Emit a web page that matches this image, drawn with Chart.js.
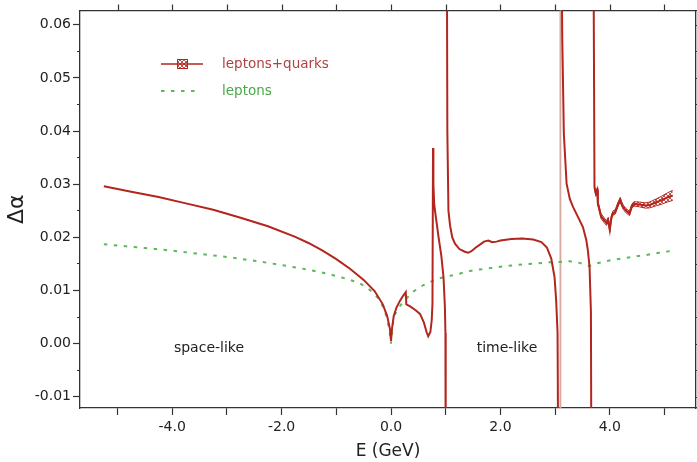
<!DOCTYPE html>
<html>
<head>
<meta charset="utf-8">
<script src="https://cdn.jsdelivr.net/npm/chart.js@4.4.1/dist/chart.umd.min.js"></script>
<style>
	html, body { margin: 0; padding: 0; background: #fff; }
	canvas { display: block; }
</style>
</head>
<body>
<canvas id="c" width="697" height="462"></canvas>
<script>
// --- data ---

// leptons + quarks (null = break at a resonance pole)
const hadE = [
	-5.25, -4.75, -4.25, -3.75, -3.25, -2.75, -2.25, -1.75, -1.5, -1.25, -1.0, -0.75, -0.5, -0.3, -0.15, -0.07, -0.02, 0.0,
	0.02, 0.05, 0.10, 0.16, 0.22, 0.27, 0.28, 0.35, 0.45, 0.53, 0.60, 0.65, 0.68, 0.72, 0.745, 0.758, 0.768, 0.775, 0.79,
	0.82, 0.87, 0.92, 0.96, 0.985, 0.995, 1.0,
	1.01,
	1.02, 1.03, 1.05, 1.08, 1.12, 1.17, 1.25, 1.35, 1.41, 1.47, 1.55, 1.62, 1.70, 1.78, 1.85, 1.93, 2.0, 2.2, 2.4, 2.6,
	2.75, 2.85, 2.93, 2.99, 3.02, 3.045, 3.06,
	3.09,
	3.115, 3.13, 3.16, 3.21, 3.27, 3.33, 3.42, 3.51, 3.57, 3.60, 3.63, 3.655, 3.665,
	3.68,
	3.70, 3.72, 3.745, 3.77, 3.78, 3.84, 3.90, 3.94, 3.97, 4.00, 4.03, 4.06, 4.10, 4.15, 4.19, 4.22, 4.25, 4.30, 4.36,
	4.40, 4.44, 4.54, 4.65, 4.73, 4.85, 4.95, 5.05, 5.15
];
const hadVal = [
	0.0296, 0.0286, 0.0276, 0.0264, 0.0252, 0.0237, 0.0221, 0.0201, 0.0189, 0.0175, 0.0159, 0.0141, 0.0120, 0.0099, 0.0074, 0.0052, 0.0028, 0.0005,
	0.0030, 0.0052, 0.0068, 0.0080, 0.0090, 0.0097, 0.0074, 0.0070, 0.0063, 0.0056, 0.0040, 0.0022, 0.0014, 0.0022, 0.0045, 0.0075, 0.0368, 0.0300, 0.0262,
	0.0238, 0.0200, 0.0165, 0.0125, 0.0070, 0.0020, -0.03,
	null,
	0.08, 0.040, 0.025, 0.0222, 0.0200, 0.0188, 0.0178, 0.0173, 0.0171, 0.0174, 0.0181, 0.0186, 0.0192, 0.0194, 0.0191, 0.0192, 0.0194, 0.0197, 0.0198, 0.0196,
	0.0191, 0.0181, 0.0160, 0.0125, 0.0080, 0.0020, -0.03,
	null,
	0.08, 0.058, 0.0395, 0.0301, 0.0272, 0.0257, 0.0238, 0.0219, 0.0195, 0.0175, 0.0144, 0.0060, -0.03,
	null,
	0.08, 0.0294, 0.0282, 0.0289, 0.0265, 0.0240, 0.0232, 0.0227, 0.0233, 0.0214, 0.0238, 0.0246, 0.0248, 0.0262, 0.0271, 0.0262, 0.0256, 0.0250, 0.0245,
	0.0258, 0.0263, 0.0262, 0.0260, 0.0261, 0.0266, 0.0270, 0.0275, 0.0279
];

// error band above psi' (half width), same E points as the tail of hadE from 3.72
const bandE = [3.72, 3.745, 3.77, 3.78, 3.84, 3.90, 3.94, 3.97, 4.00, 4.03, 4.06, 4.10, 4.15, 4.19, 4.22, 4.25, 4.30, 4.36,
	4.40, 4.44, 4.54, 4.65, 4.73, 4.85, 4.95, 5.05, 5.15];
const bandErr = [0.0003, 0.0003, 0.0004, 0.0004, 0.00045, 0.00045, 0.00045, 0.00045, 0.00045, 0.0004, 0.0004, 0.0004, 0.0004, 0.0004, 0.0004, 0.0004, 0.0004, 0.0004,
	0.0004, 0.0004, 0.00045, 0.0005, 0.00055, 0.00065, 0.00075, 0.00085, 0.00095];

// leptons only
const lepE = [-5.25, -4.5, -4.0, -3.5, -3.0, -2.5, -2.0, -1.5, -1.17, -0.81, -0.6, -0.44, -0.32, -0.22, -0.14, -0.08, -0.05, -0.02, 0.0,
	0.02, 0.04, 0.08, 0.13, 0.2, 0.29, 0.42, 0.59, 0.8, 0.95, 1.14, 1.5, 2.11, 2.5, 2.9, 3.27, 3.45, 3.55, 3.62, 3.68, 3.75,
	4.06, 4.4, 4.67, 4.9, 5.15];
const lepVal = [0.0187, 0.0180, 0.0175, 0.0169, 0.0163, 0.0156, 0.0148, 0.0139, 0.0132, 0.0122, 0.0115, 0.0106, 0.0095, 0.0084, 0.0068, 0.0050, 0.0036, 0.0018, 0.0,
	0.0025, 0.0041, 0.0057, 0.0066, 0.0076, 0.0086, 0.0099, 0.0110, 0.0120, 0.0125, 0.0129, 0.0138, 0.0146, 0.0150, 0.0153, 0.0155, 0.0152, 0.0148, 0.0146, 0.0148, 0.0151,
	0.0158, 0.0163, 0.0167, 0.0171, 0.0175];

// J/psi pole marker
const jpsiE = [3.097, 3.097];
const jpsiVal = [-0.03, 0.08];

// axes
const xMin = -5.686, xMax = 5.576;
const yMin = -0.0121, yMax = 0.0627;
const xTickValues = [-5, -4, -3, -2, -1, 0, 1, 2, 3, 4, 5];
const xTickLabels = ['', '-4.0', '', '-2.0', '', '0.0', '', '2.0', '', '4.0', ''];
const yTickValues = [-0.01, -0.005, 0, 0.005, 0.01, 0.015, 0.02, 0.025, 0.03, 0.035, 0.04, 0.045, 0.05, 0.055, 0.06];
const yTickLabels = ['-0.01', '', '0.00', '', '0.01', '', '0.02', '', '0.03', '', '0.04', '', '0.05', '', '0.06'];

// --- drawing ---
const RED = '#b3261e';
const GREEN = '#5cb85a';
const AXIS = '#333';

const canvas = document.getElementById('c');
const ctx = canvas.getContext('2d');

function makeHatch(color) {
	const p = document.createElement('canvas');
	p.width = 4; p.height = 4;
	const g = p.getContext('2d');
	g.strokeStyle = color;
	g.lineWidth = 0.8;
	g.beginPath();
	g.moveTo(0, 4); g.lineTo(4, 0);
	g.moveTo(0, 0); g.lineTo(4, 4);
	g.stroke();
	return ctx.createPattern(p, 'repeat');
}
const hatch = makeHatch(RED);

function pts(xs, ys) {
	return xs.map(function(x, i) { return { x: x, y: ys[i] }; });
}
const bandVal = bandE.map(function(e) { return hadVal[hadE.indexOf(e)]; });
const bandHi = bandVal.map(function(v, i) { return v + bandErr[i]; });
const bandLo = bandVal.map(function(v, i) { return v - bandErr[i]; });

Chart.defaults.font.family = '"DejaVu Sans", sans-serif';
Chart.defaults.color = '#222';

function setTicks(values) {
	return function(scale) {
		scale.ticks = values.map(function(v) { return { value: v }; });
	};
}

// legend, region labels and the tick marks on the top / right frame
const overlay = {
	id: 'overlay',
	afterDraw: function(chart) {
		const c = chart.ctx;
		const xs = chart.scales.x, ys = chart.scales.y;
		const area = chart.chartArea;
		c.save();

		// top and right frame ticks
		c.strokeStyle = AXIS;
		c.lineWidth = 1.2;
		c.beginPath();
		xTickValues.forEach(function(v) {
			const px = Math.round(xs.getPixelForValue(v)) + 0.5;
			c.moveTo(px, area.top);
			c.lineTo(px, area.top - 6);
		});
		yTickValues.forEach(function(v) {
			const py = Math.round(ys.getPixelForValue(v)) + 0.5;
			c.moveTo(area.right, py);
			c.lineTo(area.right + 6, py);
		});
		c.stroke();

		c.textBaseline = 'middle';
		c.textAlign = 'center';
		c.font = '14px "DejaVu Sans"';
		c.fillStyle = '#222';
		c.fillText('space-like', 209, 348);
		c.fillText('time-like', 507, 348);

		// legend
		c.textAlign = 'left';
		c.font = '13.5px "DejaVu Sans"';
		c.strokeStyle = RED;
		c.lineWidth = 1.3;
		c.beginPath(); c.moveTo(161, 64); c.lineTo(203, 64); c.stroke();
		c.fillStyle = hatch;
		c.fillRect(177, 59, 11, 10);
		c.lineWidth = 1;
		c.strokeRect(177.5, 59.5, 10, 9);
		c.fillStyle = '#b04040';
		c.fillText('leptons+quarks', 222, 64);

		c.strokeStyle = GREEN;
		c.lineWidth = 2;
		c.setLineDash([3.5, 6.5]);
		c.beginPath(); c.moveTo(161, 91); c.lineTo(197, 91); c.stroke();
		c.setLineDash([]);
		c.fillStyle = '#4aa84a';
		c.fillText('leptons', 222, 91);
		c.restore();
	}
};

const frameGrid = { drawOnChartArea: false, drawTicks: true, color: AXIS, tickColor: AXIS, tickWidth: 1.2, tickLength: 7 };
const frameBorder = { color: AXIS, width: 1.3 };

new Chart(ctx, {
	type: 'line',
	data: {
		datasets: [
			{ data: pts(hadE, hadVal), borderColor: RED, borderWidth: 2, xAxisID: 'x', yAxisID: 'y' },
			{ data: pts(bandE, bandHi), borderColor: RED, borderWidth: 1, backgroundColor: hatch, fill: '+1', xAxisID: 'x', yAxisID: 'y' },
			{ data: pts(bandE, bandLo), borderColor: RED, borderWidth: 1, xAxisID: 'x', yAxisID: 'y' },
			{ data: pts(lepE, lepVal), borderColor: GREEN, borderWidth: 2, borderDash: [3.5, 6.5], xAxisID: 'x', yAxisID: 'y' },
			{ data: pts(jpsiE, jpsiVal), borderColor: '#d6a79c', borderWidth: 1.8, xAxisID: 'x', yAxisID: 'y' }
		]
	},
	options: {
		responsive: false,
		animation: false,
		layout: { padding: 0 },
		elements: { point: { radius: 0 }, line: { tension: 0, borderJoinStyle: 'miter' } },
		plugins: { legend: { display: false }, tooltip: { enabled: false } },
		scales: {
			x: {
				type: 'linear', position: 'bottom', min: xMin, max: xMax,
				afterBuildTicks: setTicks(xTickValues),
				afterFit: function(s) { s.height = 54; },
				grid: frameGrid, border: frameBorder,
				ticks: {
					autoSkip: false, maxRotation: 0, padding: 4, font: { size: 14 },
					callback: function(v, i) { return xTickLabels[i]; }
				},
				title: { display: true, text: 'E (GeV)', font: { size: 17 }, padding: { top: 0, bottom: 0 } }
			},
			xTop: {
				type: 'linear', position: 'top', min: xMin, max: xMax,
				afterFit: function(s) { s.height = 10; },
				grid: { display: false }, border: frameBorder,
				ticks: { display: false }
			},
			y: {
				type: 'linear', position: 'left', min: yMin, max: yMax,
				afterBuildTicks: setTicks(yTickValues),
				afterFit: function(s) { s.width = 80; },
				grid: Object.assign({}, frameGrid, {
					tickBorderDash: function(c) { return yTickLabels[c.index] ? [] : [0, 4, 3, 20]; }
				}),
				border: frameBorder,
				ticks: {
					autoSkip: false, padding: 2, font: { size: 14 },
					callback: function(v, i) { return yTickLabels[i]; }
				},
				title: { display: true, text: 'Δα', font: { size: 22 }, padding: { top: 4, bottom: 0 } }
			},
			yRight: {
				type: 'linear', position: 'right', min: yMin, max: yMax,
				afterFit: function(s) { s.width = 1; },
				grid: { display: false }, border: frameBorder,
				ticks: { display: false }
			}
		}
	},
	plugins: [overlay]
});
</script>
</body>
</html>
